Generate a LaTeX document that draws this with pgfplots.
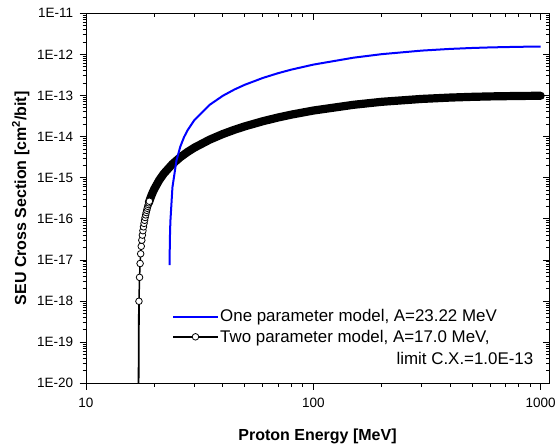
\documentclass[border=0pt]{standalone}
\usepackage{fontspec}
\setmainfont{Liberation Sans}
\usepackage{pgfplots}
\pgfplotsset{compat=1.18}
\definecolor{pureblue}{RGB}{0,0,255}
\pgfplotsset{
  commonax/.style={
    scale only axis, width=463bp, height=370bp,
    at={(0,0)}, anchor=south west,
    xmin=10, xmax=1088, ymin=1e-20, ymax=1e-11,
    xtick={10,100,1000},
    minor xtick={20,30,40,50,60,70,80,90,200,300,400,500,600,700,800,900},
    ytick={1e-20,1e-19,1e-18,1e-17,1e-16,1e-15,1e-14,1e-13,1e-12,1e-11},
    minor ytick={
      2e-20,3e-20,4e-20,5e-20,6e-20,7e-20,8e-20,9e-20,
      2e-19,3e-19,4e-19,5e-19,6e-19,7e-19,8e-19,9e-19,
      2e-18,3e-18,4e-18,5e-18,6e-18,7e-18,8e-18,9e-18,
      2e-17,3e-17,4e-17,5e-17,6e-17,7e-17,8e-17,9e-17,
      2e-16,3e-16,4e-16,5e-16,6e-16,7e-16,8e-16,9e-16,
      2e-15,3e-15,4e-15,5e-15,6e-15,7e-15,8e-15,9e-15,
      2e-14,3e-14,4e-14,5e-14,6e-14,7e-14,8e-14,9e-14,
      2e-13,3e-13,4e-13,5e-13,6e-13,7e-13,8e-13,9e-13,
      2e-12,3e-12,4e-12,5e-12,6e-12,7e-12,8e-12,9e-12},
    major tick length=6.5bp, minor tick length=3.5bp,
    axis line style={line width=1bp},
    every tick/.style={black, line width=0.9bp},
  }
}
\begin{document}
\begin{tikzpicture}
\begin{loglogaxis}[
  commonax,
  tick align=outside, xtick pos=left, ytick pos=left,
  xticklabels={10,100,1000},
  yticklabels={1E-20,1E-19,1E-18,1E-17,1E-16,1E-15,1E-14,1E-13,1E-12,1E-11},
  ticklabel style={font=\fontsize{13.5bp}{16bp}\selectfont},
  xticklabel style={yshift=-4.5bp},
  yticklabel style={xshift=-3bp},
  xlabel={\textbf{Proton Energy [MeV]}},
  ylabel={\textbf{SEU Cross Section [cm\textsuperscript{2}/bit]}},
  label style={font=\fontsize{16bp}{19bp}\selectfont},
  xlabel style={at={(axis description cs:0.5,-0.1436)}, anchor=center},
  ylabel style={at={(axis description cs:-0.141,0.5)}, anchor=center},
  legend style={at={(rel axis cs:0.1864,0.203)}, anchor=north west,
    draw=none, fill=none, inner sep=0pt, outer sep=0pt, row sep=3.5bp,
    font=\fontsize{16.9bp}{19bp}\selectfont,
    nodes={inner sep=1.5bp}},
  legend cell align=left,
  legend image code/.code={\draw[mark repeat=2,mark phase=2,#1] plot coordinates {(0bp,0bp) (22.2bp,0bp) (44.4bp,0bp)};},
]
\addlegendimage{pureblue, line width=2bp}
\addlegendentry{One parameter model, A=23.22 MeV}
\addlegendimage{black, line width=1.8bp, mark=*, mark size=3.3bp, mark options={fill=white, draw=black, line width=0.8bp}}
\addlegendentry{Two parameter model, A=17.0 MeV,}

% vertical threshold line of the two parameter model
\addplot[black, line width=1.8bp, forget plot] coordinates {(17.0,1e-21) (17.1,9.909e-19)};
% two parameter model, discrete markers near threshold
\addplot[black, line width=1.5bp, mark=*, mark size=3.3bp,
  mark options={fill=white, draw=black, line width=0.8bp}, forget plot] coordinates {
(17.1,9.909e-19) (17.2,3.780e-18) (17.3,8.204e-18) (17.4,1.415e-17) (17.5,2.152e-17)
(17.6,3.026e-17) (17.7,4.028e-17) (17.8,5.154e-17) (17.9,6.399e-17) (18.0,7.757e-17)
(18.1,9.226e-17) (18.2,1.080e-16) (18.3,1.248e-16) (18.4,1.425e-16) (18.5,1.612e-16)
(18.6,1.809e-16) (18.7,2.014e-16) (18.8,2.229e-16) (18.9,2.451e-16) (19.0,2.682e-16)
};
% two parameter model, dense markers merged into a band
\addplot[black, line width=8.2bp, line cap=round, line join=round, forget plot] coordinates {
(18.9,2.451e-16) (19.0,2.682e-16) (19.2,3.168e-16) (19.4,3.685e-16) (19.6,4.231e-16)
(19.8,4.804e-16) (20,5.405e-16) (21,8.760e-16) (22,1.263e-15) (24,2.155e-15)
(26,3.164e-15) (28,4.258e-15) (30,5.411e-15) (35,8.448e-15) (40,1.159e-14)
(45,1.472e-14) (50,1.782e-14) (60,2.374e-14) (70,2.924e-14) (80,3.430e-14)
(100,4.315e-14) (150,5.949e-14) (200,7.039e-14) (300,8.272e-14) (400,8.924e-14)
(500,9.296e-14) (600,9.522e-14) (800,9.761e-14) (1000,9.870e-14)
};
% one parameter model
\addplot[pureblue, line width=2bp, forget plot] coordinates {
(23.3,7.52e-18) (23.4,3.631e-17) (23.5,8.485e-17) (24,5.857e-16) (25,2.630e-15)
(26,5.761e-15) (27,9.750e-15) (28,1.4433e-14) (30,2.5456e-14) (35,5.950e-14)
(40,9.876e-14) (45,1.4047e-13) (50,1.8314e-13) (60,2.6804e-13) (70,3.4966e-13)
(80,4.2663e-13) (100,5.6514e-13) (150,8.317e-13) (200,1.0151e-12) (300,1.2388e-12)
(400,1.3619e-12) (500,1.4350e-12) (600,1.4810e-12) (800,1.5315e-12) (1000,1.5560e-12)
};
\node[anchor=east, inner sep=0pt, font=\fontsize{16.9bp}{19bp}\selectfont] at (rel axis cs:0.9665,0.0664) {limit C.X.=1.0E-13};
\end{loglogaxis}
\begin{loglogaxis}[
  commonax,
  tick align=inside, xtick pos=right, ytick pos=right,
  xticklabels={}, yticklabels={},
]
\end{loglogaxis}
\pgfresetboundingbox
\path[use as bounding box] (-86bp,-63.7bp) rectangle (469bp,383.3bp);
\end{tikzpicture}
\end{document}
